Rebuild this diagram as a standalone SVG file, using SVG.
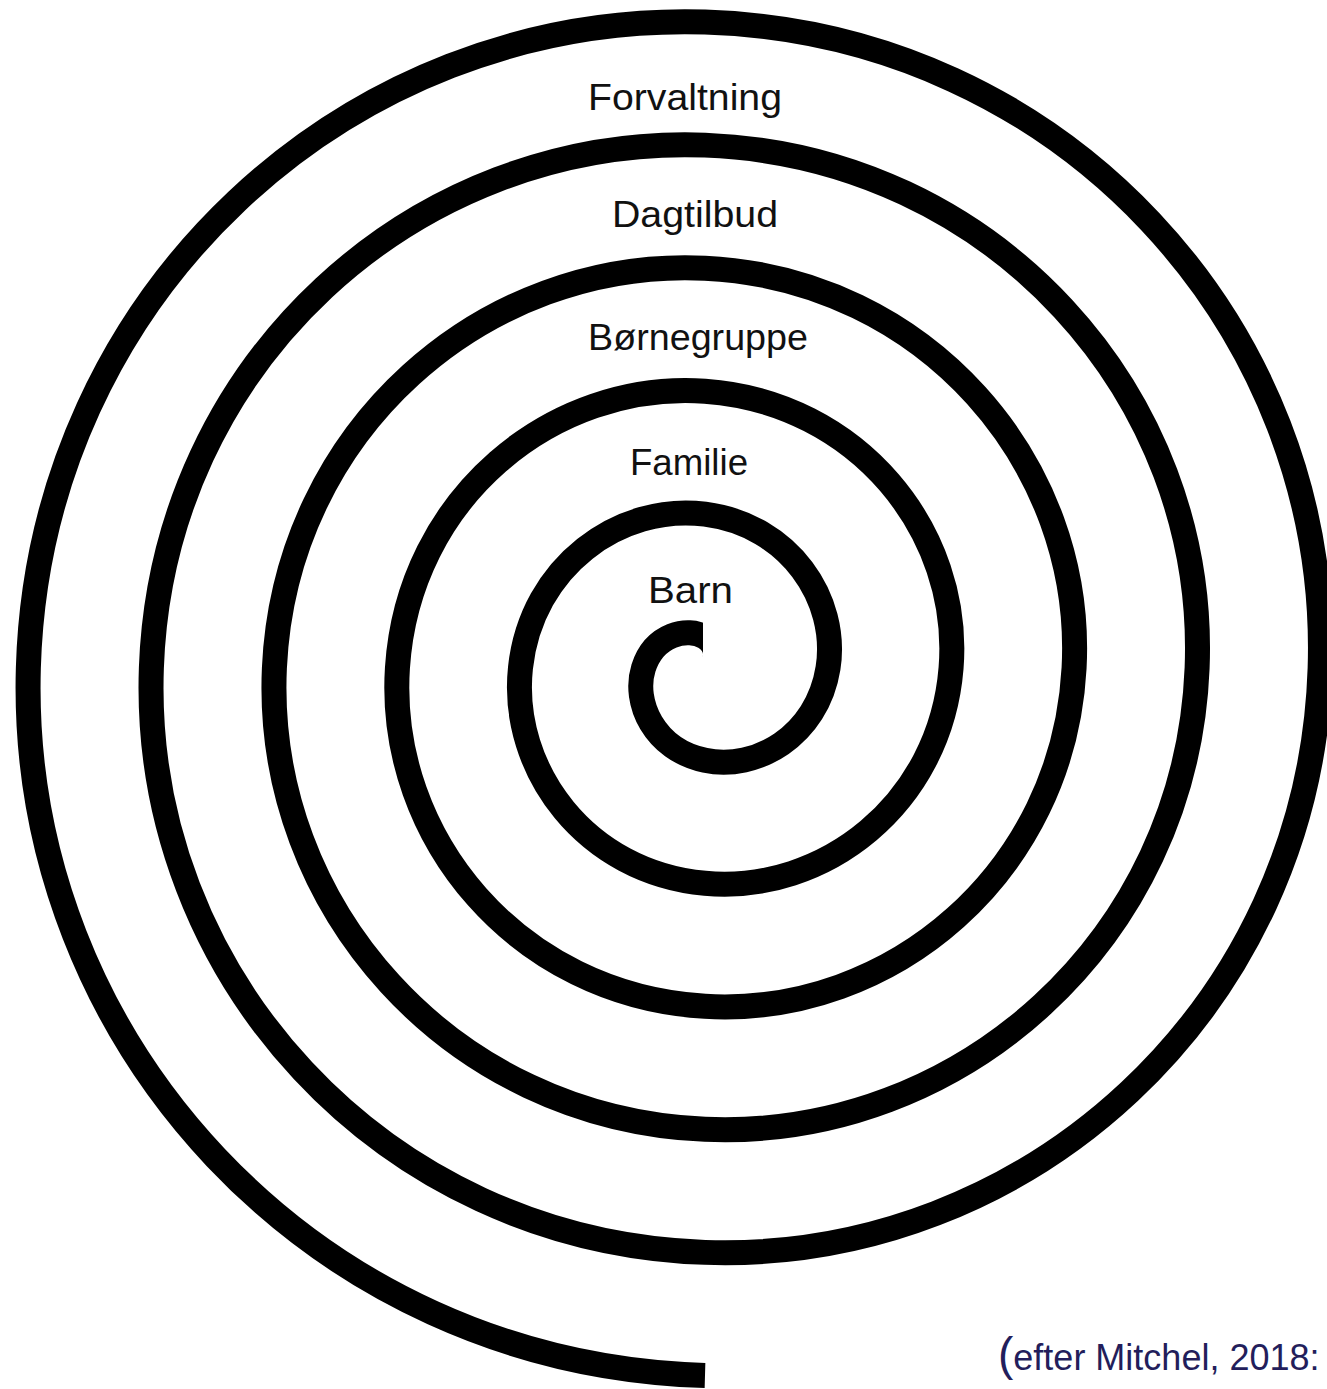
<svg xmlns="http://www.w3.org/2000/svg" width="1327" height="1389" viewBox="0 0 1327 1389">
  <style>
    .spiral { fill: none; stroke: #000; stroke-width: 25; stroke-linecap: butt; stroke-linejoin: round; }
    .lbl { font-family: "Liberation Sans", Arial, sans-serif; font-size: 36px; fill: #111; text-anchor: middle; }
    .cite { font-family: "Liberation Sans", Arial, sans-serif; font-size: 36px; fill: #231e5b; }
  </style>
  <defs>
    <clipPath id="stubClip">
      <path clip-rule="evenodd" d="M0,0H1327V1389H0Z M703,600H750V690H703Z"/>
    </clipPath>
  </defs>
  <rect width="1327" height="1389" fill="#fff"/>
  <g id="connectors">
    <path id="spiral" class="spiral" clip-path="url(#stubClip)" d="M705,668
      C715.81,668 721.99,648.05 705,637.24
      C688.01,626.43 654.30,634.03 643.49,668
      C632.68,701.97 654.04,749.46 705,760.27
      C755.96,771.08 817.22,735.95 828.03,668
      C838.84,600.05 789.94,525.02 705,514.21
      C620.06,503.40 531.27,566.08 520.46,668
      C509.65,769.92 586.09,872.49 705,883.30
      C823.91,894.11 940.25,803.90 951.06,668
      C961.87,532.10 857.88,402.00 705,391.19
      C552.12,380.38 408.24,498.13 397.43,668
      C386.62,837.87 518.14,995.52 705,1006.33
      C891.86,1017.14 1063.27,871.84 1074.08,668
      C1084.89,464.16 925.83,278.97 705,268.16
      C484.17,257.35 285.21,430.18 274.40,668
      C263.59,905.82 450.19,1118.55 705,1129.36
      C959.81,1140.17 1186.30,939.79 1197.11,668
      C1207.92,396.21 993.78,155.94 705,145.13
      C416.22,134.32 162.18,362.23 151.37,668
      C140.56,973.77 382.25,1241.57 705,1252.38
      C1027.75,1263.19 1309.33,1007.74 1320.14,668
      C1330.95,328.26 1061.73,32.91 705,22.10
      C348.27,11.29 39.16,294.29 28.35,668
      C17.54,1041.71 314.30,1364.60 705,1375.41"/>
  </g>
  <g id="node-forvaltning"><text class="lbl" x="685" y="110" textLength="194" lengthAdjust="spacingAndGlyphs">Forvaltning</text></g>
  <g id="node-dagtilbud"><text class="lbl" x="695" y="227" textLength="166" lengthAdjust="spacingAndGlyphs">Dagtilbud</text></g>
  <g id="node-boernegruppe"><text class="lbl" x="698" y="350" textLength="220" lengthAdjust="spacingAndGlyphs">Børnegruppe</text></g>
  <g id="node-familie"><text class="lbl" x="689" y="475" textLength="118" lengthAdjust="spacingAndGlyphs">Familie</text></g>
  <g id="node-barn"><text class="lbl" x="690.5" y="603" textLength="85" lengthAdjust="spacingAndGlyphs">Barn</text></g>
  <g id="citation"><text class="cite" x="998" y="1370"><tspan font-size="46px">(</tspan>efter Mitchel, 2018:</text></g>
</svg>
